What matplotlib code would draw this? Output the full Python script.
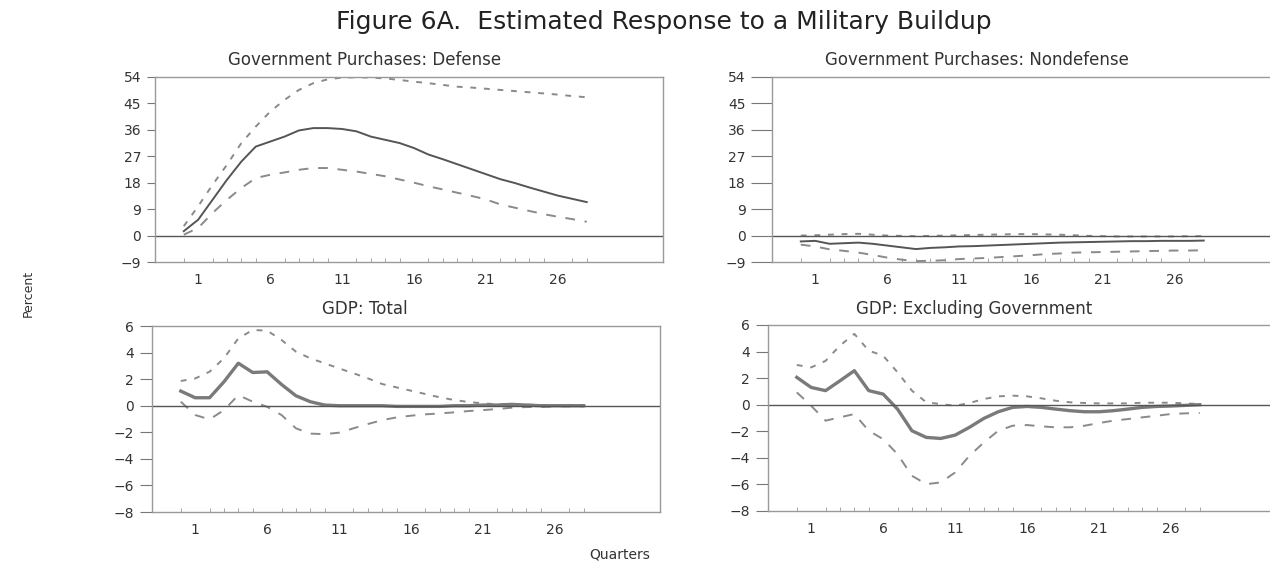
import matplotlib.pyplot as plt
import numpy as np

# Impulse responses, quarters 0..28 (percent)
quarters = np.arange(29)
xtick_pos = [1, 6, 11, 16, 21, 26]

def_point = [1.5, 5.4, 12.2, 19.0, 25.2, 30.3, 32.0, 33.7, 35.8, 36.6,
             36.6, 36.3, 35.5, 33.7, 32.6, 31.5, 29.8, 27.6, 26.0, 24.3,
             22.6, 20.9, 19.2, 17.9, 16.4, 15.0, 13.6, 12.5, 11.4]
def_upper = [3.2, 10.0, 17.3, 24.1, 31.5, 37.1, 42.2, 46.2, 49.6, 51.9,
             53.2, 53.8, 53.9, 53.8, 53.5, 53.0, 52.4, 51.9, 51.3, 50.7,
             50.4, 50.0, 49.6, 49.2, 48.8, 48.4, 48.0, 47.5, 47.1]
def_lower = [0.3, 2.6, 7.7, 12.2, 16.2, 19.6, 20.7, 21.5, 22.4, 23.0,
             23.0, 22.4, 21.8, 21.0, 20.2, 19.1, 18.0, 16.8, 15.7, 14.6,
             13.5, 12.3, 10.6, 9.5, 8.4, 7.3, 6.4, 5.6, 4.7]

nondef_point = [-2.0, -1.8, -2.8, -2.6, -2.4, -2.8, -3.4, -4.0, -4.6, -4.2,
                -4.0, -3.7, -3.6, -3.4, -3.2, -3.0, -2.8, -2.6, -2.4, -2.3,
                -2.2, -2.1, -2.0, -1.9, -1.9, -1.8, -1.8, -1.8, -1.7]
nondef_upper = [0.0, 0.1, 0.3, 0.5, 0.6, 0.3, 0.0, -0.1, -0.2, -0.1,
                0.0, 0.1, 0.2, 0.3, 0.4, 0.5, 0.5, 0.4, 0.3, 0.1,
                -0.1, -0.2, -0.3, -0.3, -0.3, -0.3, -0.3, -0.2, -0.2]
nondef_lower = [-3.1, -3.7, -4.7, -5.2, -5.8, -6.6, -7.5, -8.2, -8.7, -8.6,
                -8.4, -8.0, -7.8, -7.6, -7.3, -7.0, -6.7, -6.3, -6.1, -5.8,
                -5.7, -5.6, -5.5, -5.4, -5.3, -5.2, -5.1, -5.1, -5.0]

gdp_point = [1.1, 0.6, 0.6, 1.8, 3.2, 2.5, 2.55, 1.6, 0.75, 0.3,
             0.05, 0.0, 0.0, 0.0, 0.0, -0.05, -0.05, -0.05, -0.05, 0.0,
             0.0, 0.05, 0.05, 0.1, 0.05, 0.0, 0.0, 0.0, 0.0]
gdp_upper = [1.86, 2.05, 2.56, 3.57, 5.07, 5.7, 5.65, 4.95, 4.07, 3.57,
             3.19, 2.81, 2.44, 2.06, 1.63, 1.38, 1.13, 0.88, 0.63, 0.43,
             0.28, 0.18, 0.1, 0.12, 0.08, 0.05, 0.05, 0.05, 0.05]
gdp_lower = [0.3, -0.7, -1.03, -0.33, 0.8, 0.3, -0.08, -0.7, -1.7, -2.1,
             -2.14, -2.03, -1.7, -1.38, -1.08, -0.88, -0.75, -0.65, -0.58, -0.5,
             -0.4, -0.33, -0.25, -0.15, -0.1, -0.1, -0.05, -0.05, -0.05]

gdpx_point = [2.06, 1.3, 1.06, 1.8, 2.56, 1.06, 0.8, -0.33, -1.96, -2.46,
              -2.54, -2.29, -1.7, -1.03, -0.53, -0.2, -0.13, -0.2, -0.33, -0.45,
              -0.53, -0.53, -0.45, -0.33, -0.2, -0.13, -0.1, -0.05, 0.0]
gdpx_upper = [2.99, 2.81, 3.3, 4.45, 5.33, 4.07, 3.69, 2.44, 1.06, 0.18,
              0.05, -0.08, 0.13, 0.43, 0.63, 0.68, 0.63, 0.48, 0.3, 0.18,
              0.13, 0.1, 0.1, 0.1, 0.15, 0.15, 0.15, 0.1, 0.05]
gdpx_lower = [0.93, -0.08, -1.2, -0.95, -0.7, -1.96, -2.59, -3.72, -5.35, -5.98,
              -5.85, -5.1, -3.84, -2.84, -1.96, -1.58, -1.53, -1.63, -1.7, -1.7,
              -1.58, -1.38, -1.2, -1.08, -0.95, -0.83, -0.7, -0.65, -0.63]

gov_ticks = [-9, 0, 9, 18, 27, 36, 45, 54]
gdp_ticks = [-8, -6, -4, -2, 0, 2, 4, 6]

W, H = 1270, 565
fig = plt.figure(figsize=(W / 100, H / 100), dpi=100)
plt.rcParams['font.family'] = ['DejaVu Sans']
txt_col = '#333333'


def box(l, r, t, b):
    return [l / W, 1 - b / H, (r - l) / W, (b - t) / H]


def panel(pos, point, upper, lower, yticks, ticklen, solid_lw, solid_col):
    ax = fig.add_axes(box(*pos))
    ax.plot(quarters, upper, color='#8a8a8a', lw=1.4, ls=(0, (3, 4)))
    ax.plot(quarters, lower, color='#8a8a8a', lw=1.4, ls=(0, (5, 5)))
    ax.plot(quarters, point, color=solid_col, lw=solid_lw)
    ax.axhline(0, color='#555555', lw=1.0)
    ax.set_xlim(-2, 33.3)
    ax.set_ylim(yticks[0], yticks[-1])
    ax.set_yticks(yticks)
    ax.set_xticks(xtick_pos)
    ax.set_xticks(quarters, minor=True)
    for s in ax.spines.values():
        s.set_color('#999999')
        s.set_linewidth(1.0)
    ax.tick_params(axis='y', length=ticklen, color='#777777', labelsize=10,
                   labelcolor=txt_col, pad=4)
    ax.tick_params(axis='x', which='major', length=0, labelsize=10,
                   labelcolor=txt_col, pad=8)
    ax.tick_params(axis='x', which='minor', length=3, color='#999999', direction='in')
    return ax


panel((155, 663, 77, 262), def_point, def_upper, def_lower, gov_ticks, 6, 1.4, '#555555')
panel((772, 1280, 77, 262), nondef_point, nondef_upper, nondef_lower, gov_ticks, 15, 1.4, '#555555')
panel((152, 660, 326, 512), gdp_point, gdp_upper, gdp_lower, gdp_ticks, 9, 2.4, '#7a7a7a')
panel((768, 1276, 325, 511), gdpx_point, gdpx_upper, gdpx_lower, gdp_ticks, 9, 2.4, '#7a7a7a')

# panel titles and figure labels
fig.text(365 / W, 1 - 60 / H, 'Government Purchases: Defense', ha='center', va='center',
         fontsize=12, color=txt_col)
fig.text(977 / W, 1 - 60 / H, 'Government Purchases: Nondefense', ha='center', va='center',
         fontsize=12, color=txt_col)
fig.text(365 / W, 1 - 309 / H, 'GDP: Total', ha='center', va='center',
         fontsize=12, color=txt_col)
fig.text(974 / W, 1 - 309 / H, 'GDP: Excluding Government', ha='center', va='center',
         fontsize=12, color=txt_col)
fig.text(664 / W, 1 - 22 / H, 'Figure 6A.  Estimated Response to a Military Buildup',
         ha='center', va='center', fontsize=18, color='#222222')
fig.text(28 / W, 1 - 293 / H, 'Percent', ha='center', va='center', rotation=90,
         fontsize=9, color=txt_col)
fig.text(620 / W, 1 - 554 / H, 'Quarters', ha='center', va='center',
         fontsize=10, color=txt_col)

fig.savefig('out.png', dpi=100)
